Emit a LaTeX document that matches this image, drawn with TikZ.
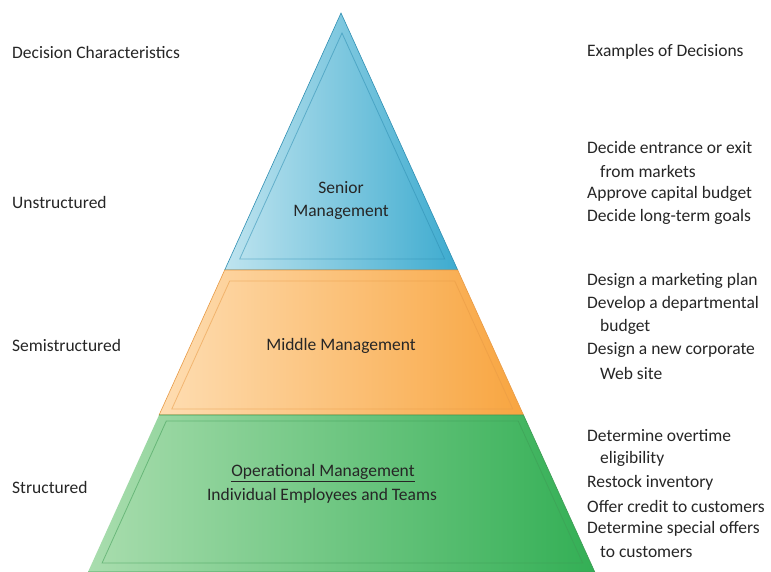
\documentclass[tikz,border=0pt]{standalone}
\usepackage{fontspec}
\setmainfont{Carlito}
\begin{document}
\begin{tikzpicture}[x=1pt,y=-1pt,
  txt/.style={font=\fontsize{17.5}{23}\selectfont, text=black!85, inner sep=0pt},
  lefttxt/.style={txt, anchor=west},
  ctrtxt/.style={txt, anchor=center, align=center},
  bevel/.style={line width=0.8pt, opacity=0.55}]
\useasboundingbox (0,0) rectangle (771,572);
\fill[white] (0,0) rectangle (771,572);
% colours
\definecolor{bluelt}{HTML}{BFE4EF}
\definecolor{bluedk}{HTML}{3DABCF}
\definecolor{blueln}{HTML}{2F8FB3}
\definecolor{orglt}{HTML}{FEDDB2}
\definecolor{orgdk}{HTML}{F8A540}
\definecolor{orgln}{HTML}{E89A45}
\definecolor{grnlt}{HTML}{A9DDAE}
\definecolor{grndk}{HTML}{33AF55}
\definecolor{grnln}{HTML}{3E9C55}
% bands
\shade[left color=bluelt, right color=bluedk] (341,13) -- (457.7,270) -- (224.7,270) -- cycle;
\draw[blueln, line width=0.6pt] (341,13) -- (457.7,270) -- (224.7,270) -- cycle;
\draw[blueln, bevel] (342,33) -- (444.7,259) -- (239.7,259) -- cycle;
\shade[left color=orglt, right color=orgdk] (224.7,270) -- (457.7,270) -- (523.5,415) -- (159.1,415) -- cycle;
\draw[orgln, line width=0.6pt] (224.7,270) -- (457.7,270) -- (523.5,415) -- (159.1,415) -- cycle;
\draw[orgln, bevel] (229.7,281) -- (454.7,281) -- (512.8,409) -- (171.8,409) -- cycle;
\shade[left color=grnlt, right color=grndk] (159.1,415) -- (523.5,415) -- (594.8,572) -- (88,572) -- cycle;
\draw[grnln, line width=0.6pt] (159.1,415) -- (523.5,415) -- (594.8,572) -- (88,572);
\draw[grnln, bevel] (166.3,421) -- (518.2,421) -- (582.7,563) -- (102.1,563) -- cycle;
% pyramid labels
\node[ctrtxt] (senior) at (341,200) {Senior\\Management};
\node[ctrtxt] (middle) at (341,346) {Middle Management};
\node[ctrtxt] (oper) at (323,473) {\underline{Operational Management}};
\node[ctrtxt] (indiv) at (322,496) {Individual Employees and Teams};
% left column
\node[lefttxt] (dc) at (12,52) {Decision Characteristics};
\node[lefttxt] (uns) at (12,202) {Unstructured};
\node[lefttxt] (semi) at (12,345) {Semistructured};
\node[lefttxt] (str) at (12,487) {Structured};
% right column
\node[lefttxt] (ex) at (587,52) {Examples of Decisions};
\node[lefttxt] (a1) at (587,147) {Decide entrance or exit};
\node[lefttxt] (a2) at (600,171) {from markets};
\node[lefttxt] (a3) at (587,194) {Approve capital budget};
\node[lefttxt] (a4) at (587,217) {Decide long-term goals};
\node[lefttxt] (b1) at (587,281) {Design a marketing plan};
\node[lefttxt] (b2) at (587,304) {Develop a departmental};
\node[lefttxt] (b3) at (600,327) {budget};
\node[lefttxt] (b4) at (587,350) {Design a new corporate};
\node[lefttxt] (b5) at (600,373) {Web site};
\node[lefttxt] (c1) at (587,436) {Determine overtime};
\node[lefttxt] (c2) at (600,459) {eligibility};
\node[lefttxt] (c3) at (587,483) {Restock inventory};
\node[lefttxt] (c4) at (587,506) {Offer credit to customers};
\node[lefttxt] (c5) at (587,529) {Determine special offers};
\node[lefttxt] (c6) at (600,552) {to customers};
\end{tikzpicture}
\end{document}
